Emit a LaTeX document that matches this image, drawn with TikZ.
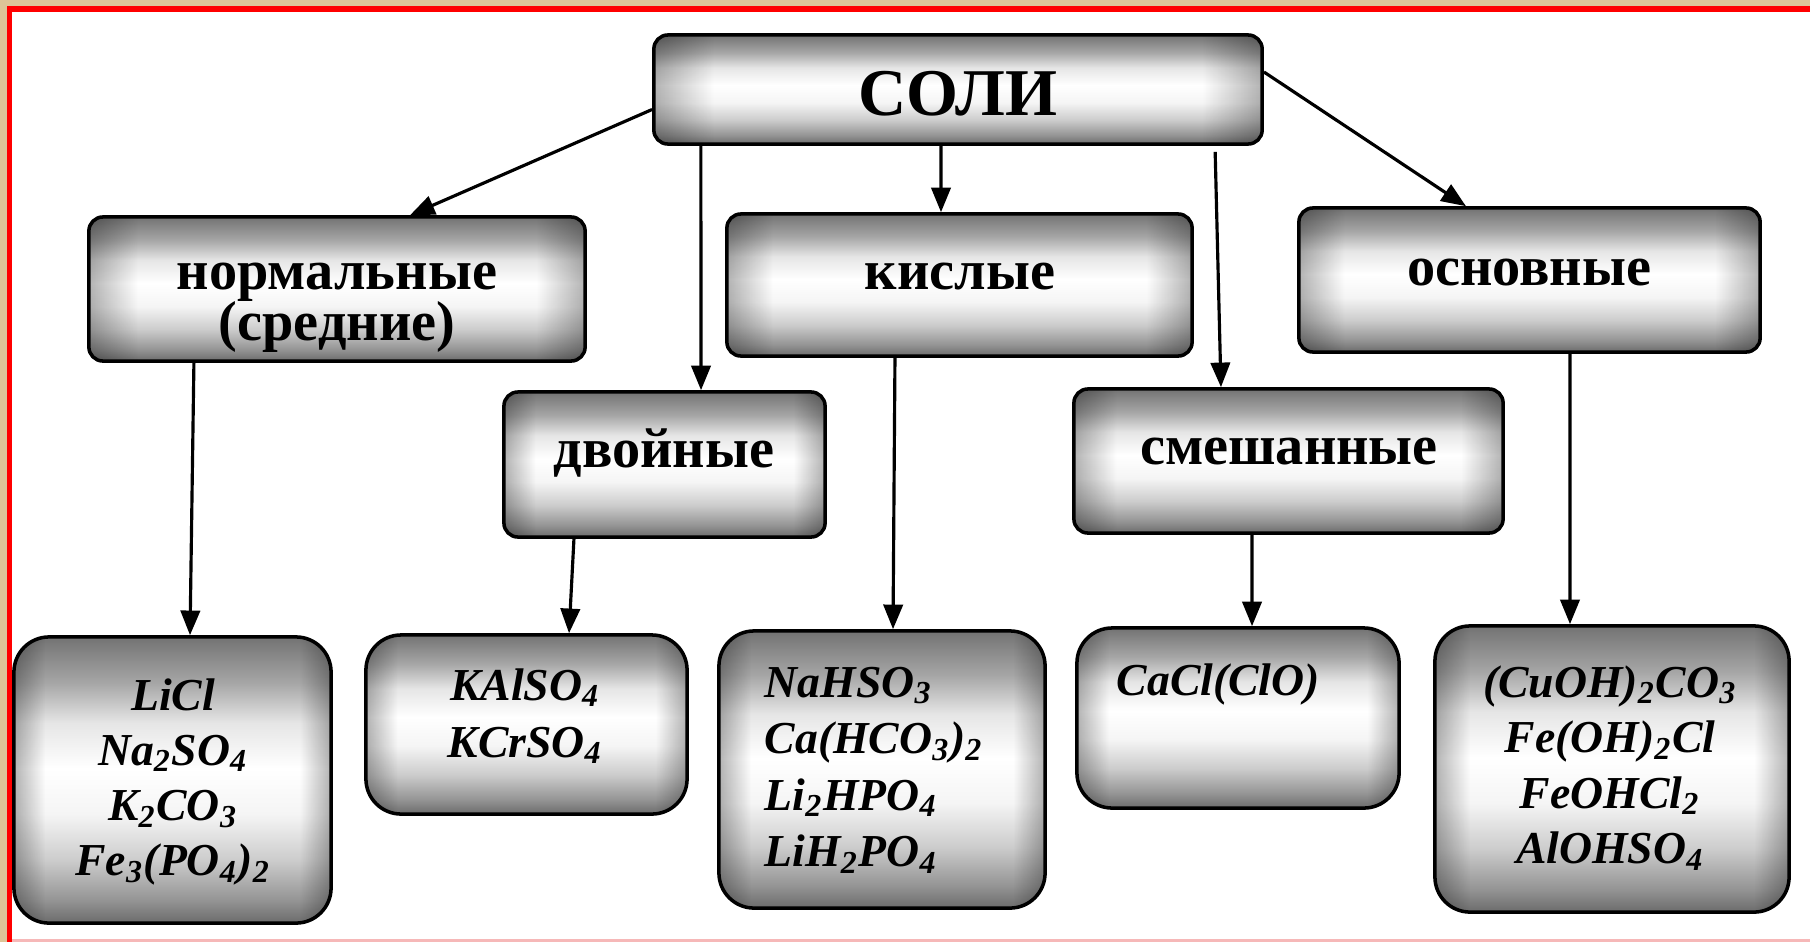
\documentclass[tikz,border=0pt]{standalone}
\usepackage{fontspec}
\setmainfont{Liberation Serif}
\usetikzlibrary{arrows.meta,fadings}

\def\sc{0.01cm}
\definecolor{beige}{RGB}{221,197,152}
\definecolor{frame}{RGB}{255,0,0}
\definecolor{pinkline}{RGB}{246,184,184}

% grey band shading of the boxes
\pgfdeclareverticalshading{metal}{100bp}{
  color(0bp)=(black!58); color(25bp)=(black!58); color(29bp)=(black!42);
  color(36bp)=(black!20); color(44bp)=(black!4); color(52bp)=(white);
  color(60bp)=(black!10); color(67bp)=(black!35); color(75bp)=(black!55);
  color(100bp)=(black!55)}
\pgfdeclarehorizontalshading{sideshade}{100bp}{
  color(0bp)=(white); color(25bp)=(white); color(30bp)=(black);
  color(70bp)=(black); color(75bp)=(white); color(100bp)=(white)}
\pgfdeclarefading{sides}{\pgfuseshading{sideshade}}

\tikzset{
  box/.style={draw=black, line width=1pt, inner sep=0pt, rounded corners=4pt,
    shade, shading=metal,
    postaction={fill=black, fill opacity=0.3, path fading=sides}},
  res/.style={box, rounded corners=10pt},
  lbl/.style={anchor=base, inner sep=0pt, font=\fontsize{16}{16}\selectfont\bfseries},
  chem/.style={anchor=base, inner sep=0pt, font=\fontsize{13}{15}\selectfont\bfseries\itshape},
  arr/.style={line width=0.9pt, -{Triangle[length=7pt,width=5.5pt]}}
}

\begin{document}
\begin{tikzpicture}[x=\sc,y=-\sc]
\useasboundingbox (0,0) rectangle (1810,942);
% background and frame
\fill[beige] (0,0) rectangle (1810,942);
\fill[white] (7,6) rectangle (1810,942);
\fill[frame] (7,6) rectangle (1810,12);
\fill[frame] (7,6) rectangle (12,942);
\fill[pinkline] (12,939) rectangle (1810,942);

% boxes
\node[box, minimum width=6.08cm, minimum height=1.09cm] (soli) at (958,89.5) {};
\node[box, minimum width=4.96cm, minimum height=1.44cm] (norm) at (337,289) {};
\node[box, minimum width=4.65cm, minimum height=1.42cm] (kisl) at (959.5,285) {};
\node[box, minimum width=4.61cm, minimum height=1.44cm] (osn) at (1529.5,280) {};
\node[box, minimum width=3.21cm, minimum height=1.45cm] (dvoin) at (664.5,464.5) {};
\node[box, minimum width=4.29cm, minimum height=1.44cm] (smesh) at (1288.5,461) {};
\node[res, minimum width=3.17cm, minimum height=2.86cm] (r-norm) at (172.5,780) {};
\node[res, minimum width=3.21cm, minimum height=1.79cm] (r-dvoin) at (526.5,724.5) {};
\node[res, minimum width=3.26cm, minimum height=2.77cm] (r-kisl) at (882,769.5) {};
\node[res, minimum width=3.22cm, minimum height=1.80cm] (r-smesh) at (1238,718) {};
\node[res, minimum width=3.54cm, minimum height=2.86cm] (r-osn) at (1612,769) {};

% labels
\node[lbl, font=\fontsize{19}{19}\selectfont\bfseries] (soli-t) at (958,115) {СОЛИ};
\node[lbl] (norm-t1) at (337,289) {нормальные};
\node[lbl] (norm-t2) at (337,340) {(средние)};
\node[lbl] (kisl-t) at (960,289) {кислые};
\node[lbl] (osn-t) at (1529,285) {основные};
\node[lbl] (dvoin-t) at (664,467) {двойные};
\node[lbl] (smesh-t) at (1289,464) {смешанные};

% formulas
\foreach \f [count=\i from 0] in {LiCl, Na\textsubscript{2}SO\textsubscript{4},
    K\textsubscript{2}CO\textsubscript{3}, Fe\textsubscript{3}(PO\textsubscript{4})\textsubscript{2}}
  \node[chem] (f-norm-\i) at (173,{710+55.3*\i}) {\f};
\foreach \f [count=\i from 0] in {KAlSO\textsubscript{4}, KCrSO\textsubscript{4}}
  \node[chem] (f-dvoin-\i) at (525,{700+57*\i}) {\f};
\foreach \f [count=\i from 0] in {NaHSO\textsubscript{3}, Ca(HCO\textsubscript{3})\textsubscript{2},
    Li\textsubscript{2}HPO\textsubscript{4}, LiH\textsubscript{2}PO\textsubscript{4}}
  \node[chem, anchor=base west] (f-kisl-\i) at (764,{697+56.5*\i}) {\f};
\node[chem, anchor=base west] (f-smesh) at (1116,695) {CaCl(ClO)};
\foreach \f [count=\i from 0] in {{(CuOH)\textsubscript{2}CO\textsubscript{3}}, Fe(OH)\textsubscript{2}Cl,
    FeOHCl\textsubscript{2}, AlOHSO\textsubscript{4}}
  \node[chem] (f-osn-\i) at (1610,{697+55.5*\i}) {\f};

% arrows
\draw[arr] ([yshift=-0.2cm]soli.west) -- ([xshift=0.73cm]norm.north);
\draw[arr] ([xshift=-2.57cm]soli.south) -- ([xshift=0.365cm]dvoin.north);
\draw[arr] ([xshift=-0.17cm]soli.south) -- ([xshift=-0.185cm]kisl.north);
\draw[arr] ([xshift=2.57cm,yshift=-0.06cm]soli.south) -- ([xshift=-0.675cm]smesh.north);
\draw[arr] ([yshift=0.175cm]soli.east) -- ([xshift=-0.635cm]osn.north);
\draw[arr] ([xshift=-1.43cm]norm.south) -- ([xshift=0.175cm]r-norm.north);
\draw[arr] ([xshift=-0.905cm]dvoin.south) -- ([xshift=0.425cm]r-dvoin.north);
\draw[arr] ([xshift=-0.645cm]kisl.south) -- ([xshift=0.11cm]r-kisl.north);
\draw[arr] ([xshift=-0.365cm]smesh.south) -- ([xshift=0.14cm]r-smesh.north);
\draw[arr] ([xshift=0.405cm]osn.south) -- ([xshift=-0.42cm]r-osn.north);
\end{tikzpicture}
\end{document}
